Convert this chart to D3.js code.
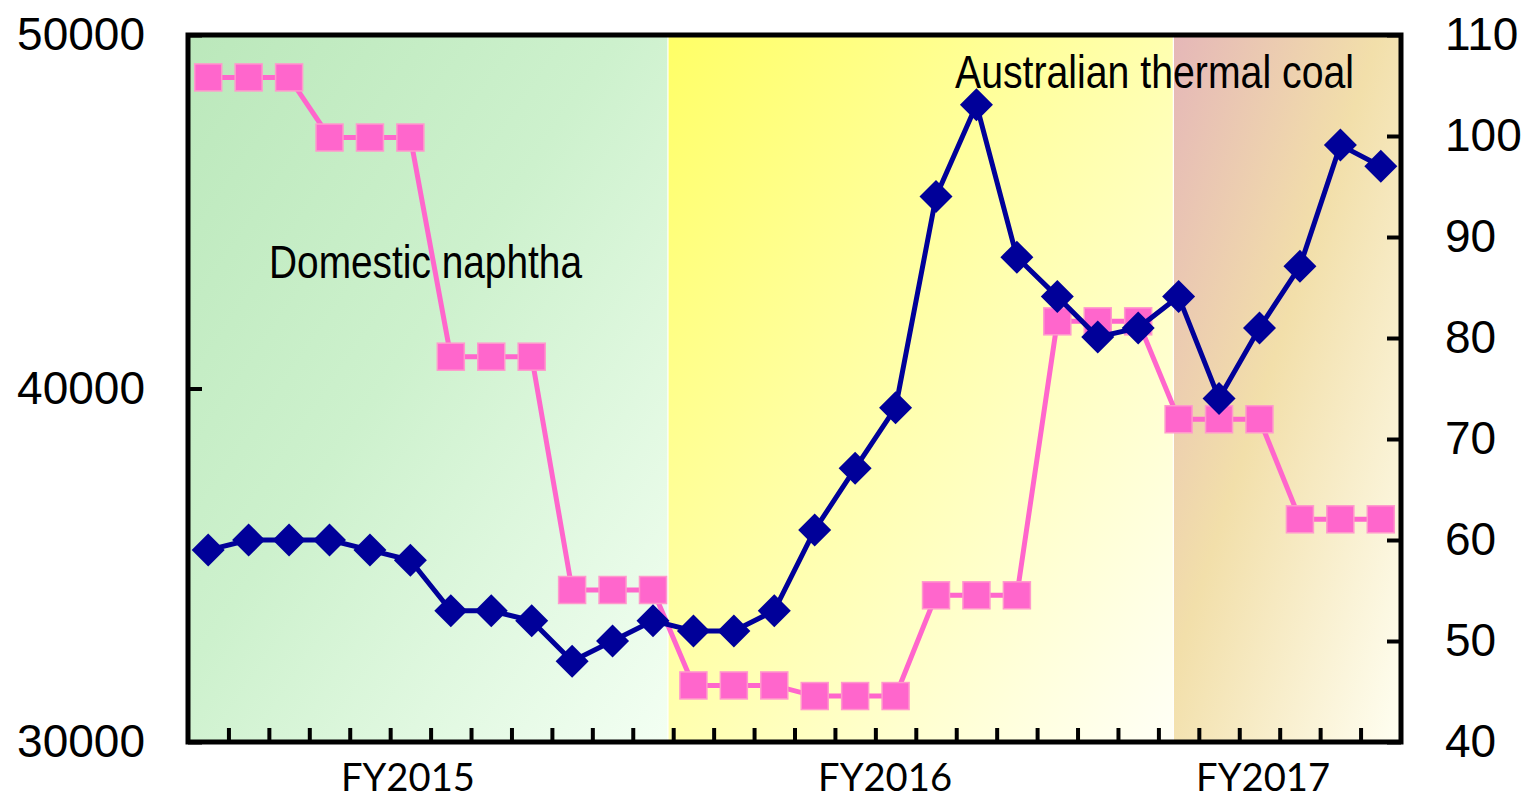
<!DOCTYPE html>
<html>
<head>
<meta charset="utf-8">
<script src="https://cdn.jsdelivr.net/npm/d3@7"></script>
<style>
  body { margin: 0; background: #fff; }
  svg { display: block; }
</style>
</head>
<body>
<div id="chart"></div>
<script>
// monthly series, Apr 2014 .. Sep 2016 (30 months)
const months = d3.range(30);
const naphtha = [48800, 48800, 48800, 47100, 47100, 47100, 40900, 40900, 40900,
  34300, 34300, 34300, 31600, 31600, 31600, 31300, 31300, 31300,
  34150, 34150, 34150, 41900, 41900, 41900, 39130, 39130, 39130, 36300, 36300, 36300];
const coal = [59, 60, 60, 60, 59, 58, 53, 53, 52, 48, 50, 52, 51, 51, 53,
  61, 67.1, 73.1, 94, 103.1, 88, 84.1, 80.1, 81, 84.1, 74, 81, 87.1, 99.1, 97];

const leftTicks = [30000, 40000, 50000];
const rightTicks = [40, 50, 60, 70, 80, 90, 100, 110];
const fyLabels = ["FY2015", "FY2016", "FY2017"];
const fyLabelPos = [5.44, 17.24, 26.59];
// shaded fiscal-year bands, in month units
const fyBands = [
  { name: "fy15", from: 0, to: 11.87 },
  { name: "fy16", from: 11.87, to: 24.37 },
  { name: "fy17", from: 24.37, to: 30 }
];

const W = 1526, H = 801;
const margin = { top: 35, right: 125, bottom: 59, left: 188 };
const width = W - margin.left - margin.right;
const height = H - margin.top - margin.bottom;

const svg = d3.select("#chart").append("svg")
  .attr("width", W).attr("height", H);

const defs = svg.append("defs");
const grads = {
  fy15: ["#bbe8bb", "#cdf1cd", "#f3fff3"],
  fy16: ["#ffff66", "#ffffa8", "#fffff6"],
  fy17: ["#e5b7b8", "#f2dfaa", "#fffff2"]
};
Object.entries(grads).forEach(([k, c]) => {
  const g = defs.append("linearGradient").attr("id", "g-" + k)
    .attr("x1", 0).attr("y1", 0).attr("x2", 1).attr("y2", 1);
  g.append("stop").attr("offset", "0%").attr("stop-color", c[0]);
  g.append("stop").attr("offset", "45%").attr("stop-color", c[1]);
  g.append("stop").attr("offset", "100%").attr("stop-color", c[2]);
});

const g = svg.append("g").attr("transform", `translate(${margin.left},${margin.top})`);

const xPos = d3.scaleLinear().domain([0, 30]).range([0, width]);
const x = d3.scaleBand().domain(months).range([0, width]);
const yL = d3.scaleLinear().domain([30000, 50000]).range([height, 0]);
const yR = d3.scaleLinear().domain([40, 110]).range([height, 0]);

// backgrounds
g.selectAll("rect.band").data(fyBands).enter().append("rect")
  .attr("class", "band")
  .attr("x", d => xPos(d.from))
  .attr("y", 0)
  .attr("width", d => xPos(d.to) - xPos(d.from))
  .attr("height", height)
  .attr("fill", d => `url(#g-${d.name})`);

g.selectAll("line.sep").data(fyBands.slice(1)).enter().append("line")
  .attr("x1", d => xPos(d.from)).attr("x2", d => xPos(d.from))
  .attr("y1", 0).attr("y2", height)
  .attr("stroke", "#ffffff").attr("stroke-width", 1.2);

// annotations
g.append("text")
  .attr("x", 269 - margin.left).attr("y", 278 - margin.top)
  .attr("font-family", "'Liberation Sans Narrow', 'Arial Narrow', 'Liberation Sans', sans-serif")
  .attr("font-size", 46)
  .attr("textLength", 313).attr("lengthAdjust", "spacingAndGlyphs")
  .text("Domestic naphtha");

g.append("text")
  .attr("x", 955 - margin.left).attr("y", 88 - margin.top)
  .attr("font-family", "'Liberation Sans Narrow', 'Arial Narrow', 'Liberation Sans', sans-serif")
  .attr("font-size", 46)
  .attr("textLength", 399).attr("lengthAdjust", "spacingAndGlyphs")
  .text("Australian thermal coal");

const cx = i => x(i) + x.bandwidth() / 2;

// naphtha (left axis)
g.append("path")
  .datum(naphtha)
  .attr("fill", "none")
  .attr("stroke", "#ff66cc")
  .attr("stroke-width", 5)
  .attr("d", d3.line().x((d, i) => cx(i)).y(d => yL(d)));

const sq = 27;
g.selectAll("rect.naphtha").data(naphtha).enter().append("rect")
  .attr("class", "naphtha")
  .attr("x", (d, i) => cx(i) - sq / 2)
  .attr("y", d => yL(d) - sq / 2)
  .attr("width", sq).attr("height", sq)
  .attr("fill", "#ff66cc")
  .attr("stroke", "#ff99cc")
  .attr("stroke-width", 1.5);

// coal (right axis)
g.append("path")
  .datum(coal)
  .attr("fill", "none")
  .attr("stroke", "#000099")
  .attr("stroke-width", 5)
  .attr("stroke-linejoin", "round")
  .attr("d", d3.line().x((d, i) => cx(i)).y(d => yR(d)));

const dm = 16.5;
g.selectAll("path.coal").data(coal).enter().append("path")
  .attr("class", "coal")
  .attr("transform", (d, i) => `translate(${cx(i)},${yR(d)})`)
  .attr("d", `M0,${-dm}L${dm},0L0,${dm}L${-dm},0Z`)
  .attr("fill", "#000099");

// axes (ticks point inward)
const leftAxis = g.append("g")
  .call(d3.axisLeft(yL).tickValues(leftTicks).tickSizeInner(-14).tickSizeOuter(0)
    .tickPadding(43).tickFormat(d3.format("d")));
const rightAxis = g.append("g")
  .attr("transform", `translate(${width},0)`)
  .call(d3.axisRight(yR).tickValues(rightTicks).tickSizeInner(-14).tickSizeOuter(0)
    .tickPadding(44));
const bottomAxis = g.append("g")
  .attr("transform", `translate(0,${height})`)
  .call(d3.axisBottom(xPos).tickValues(d3.range(1, 30)).tickSizeInner(-14).tickSizeOuter(0)
    .tickFormat(""));

[leftAxis, rightAxis, bottomAxis].forEach(a => {
  a.select(".domain").remove();
  a.selectAll(".tick line").attr("stroke", "#000").attr("stroke-width", 4);
  a.selectAll(".tick text")
    .attr("font-family", "'Liberation Sans', Arial, sans-serif")
    .attr("font-size", 46)
    .attr("fill", "#000");
});

// frame
g.append("rect")
  .attr("x", 0).attr("y", 0)
  .attr("width", width).attr("height", height)
  .attr("fill", "none")
  .attr("stroke", "#000")
  .attr("stroke-width", 5);

// fiscal year labels
g.selectAll("text.fy").data(fyLabels).enter().append("text")
  .attr("class", "fy")
  .attr("x", (d, i) => xPos(fyLabelPos[i]))
  .attr("y", height + 49)
  .attr("text-anchor", "middle")
  .attr("font-family", "Lato, 'Open Sans', sans-serif")
  .attr("font-size", 39)
  .attr("textLength", 134).attr("lengthAdjust", "spacingAndGlyphs")
  .text(d => d);
</script>
</body>
</html>
